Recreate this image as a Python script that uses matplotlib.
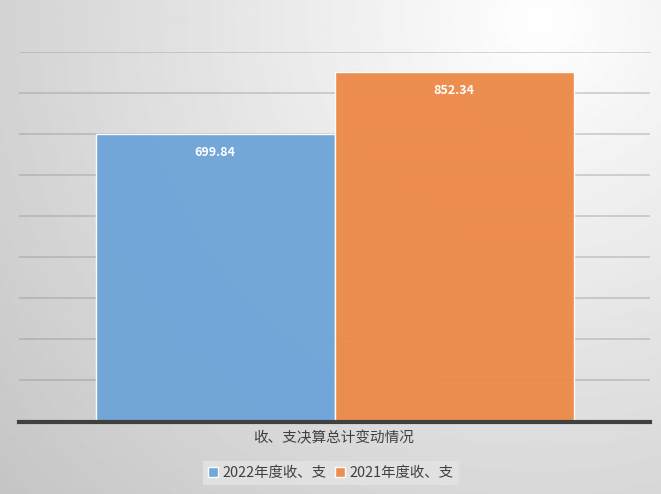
import numpy as np
import matplotlib
matplotlib.use("Agg")
import matplotlib.pyplot as plt

plt.rcParams['font.family'] = ['Noto Sans CJK SC', 'DejaVu Sans']

category = "收、支决算总计变动情况"
series_names = ["2022年度收、支", "2021年度收、支"]
values = [699.84, 852.34]
colors = ["#6fa5d8", "#ed8b4b"]

W, H = 661, 494
fig = plt.figure(figsize=(W / 100, H / 100), dpi=100)

# radial gradient background
bg = fig.add_axes([0, 0, 1, 1])
yy, xx = np.mgrid[0:H, 0:W]
cx, cy = 540, 20
r = np.sqrt((xx - cx) ** 2 + (yy - cy) ** 2) / np.sqrt(540 ** 2 + 474 ** 2)
shade = 1.0 - 0.23 * np.clip(r, 0, 1)
bg.imshow(shade, cmap="gray", vmin=0, vmax=1, aspect="auto", extent=[0, W, H, 0])
bg.set_axis_off()

ax = fig.add_axes([19 / W, 1 - 421.5 / H, (650 - 19) / W, (421.5 - 52) / H])
ax.patch.set_alpha(0)
ax.set_xlim(-0.5, 0.5)
ax.set_ylim(0, 900)
ax.set_yticks(np.arange(100, 901, 100))
ax.yaxis.grid(True, color="#8a8a8a", alpha=0.4, linewidth=1.2)
ax.set_axisbelow(True)
for s in ["top", "right", "left"]:
    ax.spines[s].set_visible(False)
ax.spines["bottom"].set_color("#404040")
ax.spines["bottom"].set_linewidth(3)
ax.tick_params(left=False, labelleft=False, bottom=False, labelbottom=False)

bw = 239 / 631
xs = [-bw / 2, bw / 2]
bars = []
for x, v, c, name in zip(xs, values, colors, series_names):
    b = ax.bar(x, v, width=bw, color=c, edgecolor="white", linewidth=1.0, alpha=0.97, label=name)
    bars.append(b)
    ax.text(x, v - 45, f"{v:.2f}", ha="center", va="center", color="white",
            fontsize=9, fontweight="bold")

fig.text(334 / W, 1 - 438 / H, category, ha="center", va="center",
         color="#404040", fontsize=10.5)

leg = fig.legend(handles=[b[0] for b in bars], labels=series_names, loc="center",
                 bbox_to_anchor=(331 / W, 1 - 473 / H), ncol=2, frameon=True,
                 fontsize=10.4, handlelength=0.7, handleheight=0.7, handletextpad=0.3,
                 columnspacing=0.6, borderpad=0.35, fancybox=False)
leg.get_frame().set_facecolor("#e4e4e4")
leg.get_frame().set_edgecolor("none")
leg.get_frame().set_alpha(0.8)
for t in leg.get_texts():
    t.set_color("#404040")

fig.savefig("out.png", dpi=100)
